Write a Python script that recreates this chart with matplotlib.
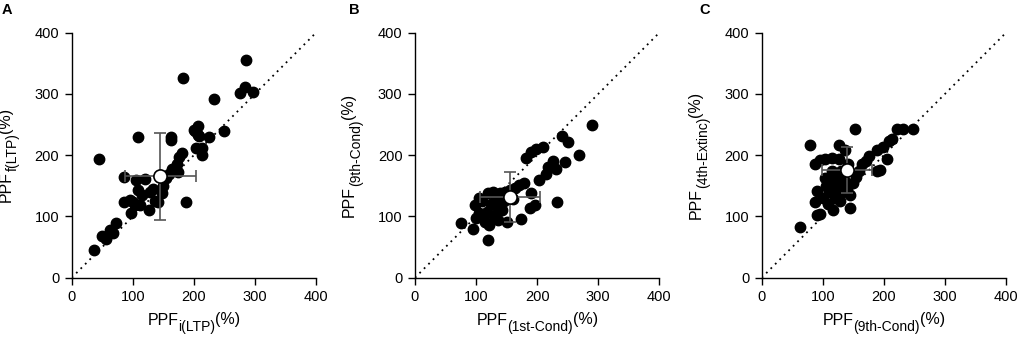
import matplotlib
matplotlib.use("Agg")
import matplotlib.pyplot as plt
import numpy as np

plt.rcParams['font.family'] = ['Liberation Sans', 'DejaVu Sans']
plt.rcParams['mathtext.default'] = 'regular'

# ---- data ----
a_x = [37, 49, 56, 63, 68, 73, 44, 85, 85, 95, 97, 101, 104, 106, 109, 112, 115, 120, 109, 126,
       128, 133, 136, 142, 148, 150, 155, 160, 165, 162, 162, 172, 174, 180, 175, 182, 187, 202, 207, 209,
       204, 213, 214, 225, 233, 250, 276, 283, 297, 285, 201, 206]
a_y = [45, 68, 64, 78, 73, 90, 193, 165, 123, 127, 105, 123, 118, 160, 144, 119, 135, 161, 230, 110,
       140, 145, 125, 124, 139, 150, 162, 170, 178, 230, 225, 185, 172, 204, 197, 326, 124, 239, 247, 231,
       212, 212, 201, 230, 292, 239, 302, 311, 303, 355, 241, 233]
a_mean = [145, 166]
a_err = [58, 71]

b_x = [75, 95, 99, 100, 105, 110, 114, 120, 121, 118, 120, 125, 128, 130, 133, 135, 139, 142, 145, 150,
       155, 160, 163, 171, 174, 178, 188, 190, 197, 182, 190, 198, 210, 203, 215, 218, 226, 231, 232, 241,
       250, 245, 268, 290, 105, 112, 148, 136]
b_y = [89, 79, 119, 97, 105, 125, 91, 61, 86, 108, 138, 120, 140, 100, 132, 115, 138, 110, 125, 91,
       143, 128, 146, 151, 96, 154, 113, 138, 119, 195, 206, 210, 213, 159, 170, 181, 190, 178, 124, 231,
       222, 189, 201, 249, 130, 100, 140, 95]
b_mean = [155, 132]
b_err = [49, 41]

c_x = [62, 79, 87, 90, 87, 90, 96, 96, 104, 115, 126, 117, 126, 136, 144, 153, 100, 105, 110, 108,
       113, 118, 120, 125, 122, 128, 130, 132, 135, 140, 145, 150, 155, 160, 165, 170, 175, 188, 194, 188,
       199, 205, 209, 213, 221, 231, 248, 115, 142, 103]
c_y = [83, 217, 186, 141, 123, 103, 104, 192, 193, 195, 193, 111, 217, 209, 114, 242, 130, 150, 140, 120,
       160, 145, 130, 150, 165, 125, 175, 140, 160, 145, 135, 155, 165, 175, 185, 190, 198, 174, 176, 209,
       214, 193, 223, 226, 243, 243, 243, 175, 185, 163]
c_mean = [139, 176]
c_err = [41, 38]

ticks = [0, 100, 200, 300, 400]
letters = ['A', 'B', 'C']
xlabel_subs = ['i(LTP)', '(1st-Cond)', '(9th-Cond)']
ylabel_subs = ['f(LTP)', '(9th-Cond)', '(4th-Extinc)']

W, H = 1020, 339
fig = plt.figure(figsize=(W / 100, H / 100), dpi=100)
renderer = fig.canvas.get_renderer()

MAIN_FS = 11.5
SUB_FS = 10
SUB_SHIFT = 6.5  # px down


def text_width(s, fs):
    t = fig.text(0, 0, s, fontsize=fs)
    w = t.get_window_extent(renderer).width
    t.remove()
    return w


def composite_label(sub, cx, cy, vertical):
    parts = [('PPF', MAIN_FS, 0.0), (sub, SUB_FS, SUB_SHIFT), ('(%)', MAIN_FS, -0.5)]
    widths = [text_width(s, fs) for s, fs, _ in parts]
    total = sum(widths)
    pos = -total / 2.0
    for (s, fs, shift), w in zip(parts, widths):
        if vertical:
            x = cx + shift
            y = cy + pos
            fig.text(x / W, y / H, s, fontsize=fs, rotation=90, rotation_mode='anchor',
                     ha='left', va='baseline')
        else:
            x = cx + pos
            y = cy - shift
            fig.text(x / W, y / H, s, fontsize=fs, ha='left', va='baseline')
        pos += w


lefts_px = [71.7, 415.0, 761.7]
letter_px = [2, 349, 699]
ax_w_px, ax_h_px = 244.3, 245.0
bottom_px = H - 277.7
panels = [(a_x, a_y, a_mean, a_err), (b_x, b_y, b_mean, b_err), (c_x, c_y, c_mean, c_err)]

for i, (xs, ys, mean, err) in enumerate(panels):
    ax = fig.add_axes([lefts_px[i] / W, bottom_px / H, ax_w_px / W, ax_h_px / H])
    ax.plot([0, 400], [0, 400], linestyle=(0, (1, 2.5)), color='black', lw=1.3, zorder=1)
    ax.plot(xs, ys, 'o', color='black', ms=7.5, zorder=2, clip_on=False)
    ax.errorbar([mean[0]], [mean[1]], xerr=[err[0]], yerr=[err[1]], fmt='none',
                ecolor='#555555', elinewidth=1.2, capsize=4, capthick=1.2, zorder=3)
    ax.plot([mean[0]], [mean[1]], 'o', mfc='white', mec='black', mew=1.2, ms=9.5, zorder=4)
    ax.set_xlim(0, 400)
    ax.set_ylim(0, 400)
    ax.set_xticks(ticks)
    ax.set_yticks(ticks)
    for s in ['top', 'right']:
        ax.spines[s].set_visible(False)
    for s in ['left', 'bottom']:
        ax.spines[s].set_linewidth(1.0)
    ax.tick_params(direction='out', length=5, width=1, labelsize=10.5, pad=4)

    # composite axis labels (PPF + lowered subscript + (%))
    cx = lefts_px[i] + ax_w_px / 2
    composite_label(xlabel_subs[i], cx, bottom_px - 47, vertical=False)
    cy = bottom_px + ax_h_px / 2
    composite_label(ylabel_subs[i], lefts_px[i] - 61, cy, vertical=True)

    fig.text(letter_px[i] / W, 1 - 3 / H, letters[i], fontsize=10.5, fontweight='bold',
             ha='left', va='top')

fig.savefig('out.png', dpi=100)
